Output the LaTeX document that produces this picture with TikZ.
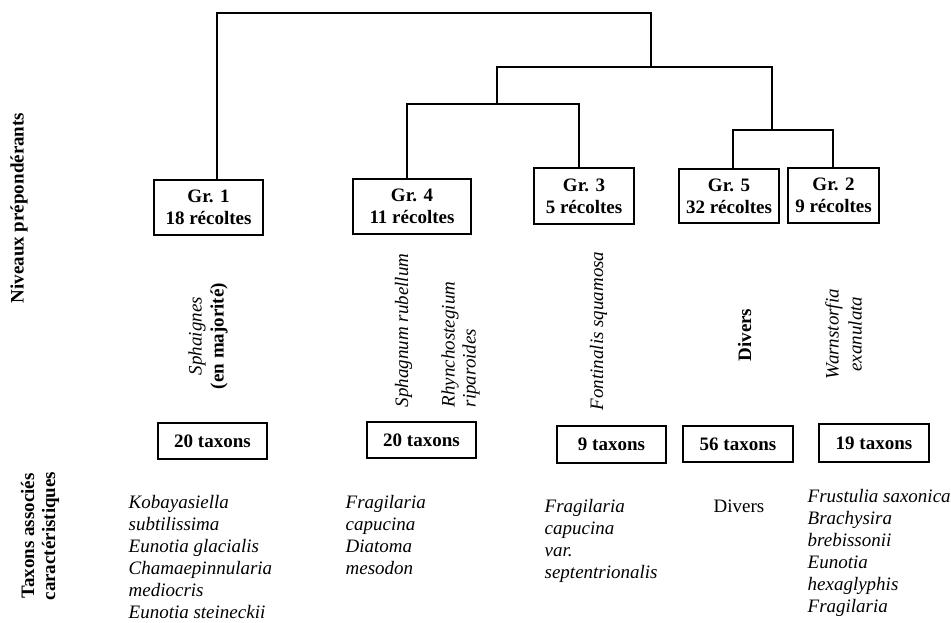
\documentclass[tikz,border=0pt]{standalone}
\usepackage{fontspec}
\setmainfont{Liberation Serif}
\begin{document}
\begin{tikzpicture}[x=1pt,y=-1pt,
  font=\fontsize{19}{22}\selectfont,
  line width=1.3pt,
  grbox/.style={draw, align=center, inner sep=0pt, font=\fontsize{19}{22}\selectfont\bfseries},
  taxbox/.style={draw, inner sep=0pt, minimum width=109pt, minimum height=36pt, font=\fontsize{19}{22}\selectfont\bfseries},
  vlab/.style={rotate=90, inner sep=0pt},
  lst/.style={anchor=north west, align=left, inner sep=0pt, font=\fontsize{19}{22}\selectfont\itshape},
  link/.style={line width=1.3pt}]
\useasboundingbox (0,0) rectangle (951,622);
\fill[white] (0,0) rectangle (951,622);

% side labels
\node[vlab, font=\fontsize{19}{22}\selectfont\bfseries] (niv) at (19,208) {Niveaux prépondérants};
\node[vlab, align=center, font=\fontsize{19}{21}\selectfont\bfseries] (tac) at (40,536) {Taxons associés\\caractéristiques};

% group boxes
\node[grbox, minimum width=109pt, minimum height=55pt] (g1) at (208.5,207.5) {Gr. 1\\18 récoltes};
\node[grbox, minimum width=118pt, minimum height=55pt] (g4) at (412,206.5) {Gr. 4\\11 récoltes};
\node[grbox, minimum width=100pt, minimum height=56pt] (g3) at (584,196) {Gr. 3\\5 récoltes};
\node[grbox, minimum width=100pt, minimum height=54pt] (g5) at (729,196) {Gr. 5\\32 récoltes};
\node[grbox, minimum width=91pt, minimum height=55pt] (g2) at (833.5,195.5) {Gr. 2\\9 récoltes};

% dendrogram junctions
\coordinate (r1) at (217,13);
\coordinate (r2) at (651,13);
\coordinate (s1) at (497,67);
\coordinate (s2) at (772,67);
\coordinate (t1) at (407,104);
\coordinate (t2) at (579,104);
\coordinate (u1) at (733,130);
\coordinate (u2) at (833,130);

\draw[link] (g1.north -| r1) -- (r1) -- (r2) -- (r2 |- s1);
\draw[link] (s1 |- t1) -- (s1) -- (s2) -- (s2 |- u1);
\draw[link] (g4.north -| t1) -- (t1) -- (t2) -- (g3.north -| t2);
\draw[link] (g5.north -| u1) -- (u1) -- (u2) -- (g2.north -| u2);

% dominant levels (rotated)
\node[vlab, align=center] (m1) at (208,336) {\itshape Sphaignes\\\bfseries (en majorité)};
\node[vlab, font=\fontsize{19}{22}\selectfont\itshape] (m4a) at (403.5,330.5) {Sphagnum rubellum};
\node[vlab, align=left, anchor=west, font=\fontsize{19}{21}\selectfont\itshape] (m4b) at (460.5,408) {Rhynchostegium\\riparoides};
\node[vlab, font=\fontsize{19}{22}\selectfont\itshape] (m3) at (598.5,331) {Fontinalis squamosa};
\node[vlab, font=\fontsize{19}{22}\selectfont\bfseries] (m5) at (744.5,335) {Divers};
\node[vlab, align=center, font=\fontsize{19}{23}\selectfont\itshape] (m2) at (843.5,334) {Warnstorfia\\exanulata};

% taxa boxes
\node[taxbox] (x1) at (212.5,441) {20 taxons};
\node[taxbox] (x4) at (421.5,440) {20 taxons};
\node[taxbox, minimum height=37pt] (x3) at (611.5,444.5) {9 taxons};
\node[taxbox, minimum width=110pt] (x5) at (738,444) {56 taxons};
\node[taxbox, minimum width=110pt, minimum height=38pt] (x2) at (874,443) {19 taxons};

% characteristic taxa lists
\node[lst] (l1) at (128,494.5) {Kobayasiella\\subtilissima\\Eunotia glacialis\\Chamaepinnularia\\mediocris\\Eunotia steineckii};
\node[lst] (l4) at (345,494.5) {Fragilaria\\capucina\\Diatoma\\mesodon};
\node[lst] (l3) at (544,498.5) {Fragilaria\\capucina\\var.\\septentrionalis};
\node[lst, font=\fontsize{19}{22}\selectfont\upshape] (l5) at (713,499) {Divers};
\node[lst] (l2) at (807,488.5) {Frustulia saxonica\\Brachysira\\brebissonii\\Eunotia\\hexaglyphis\\Fragilaria};
\end{tikzpicture}
\end{document}
